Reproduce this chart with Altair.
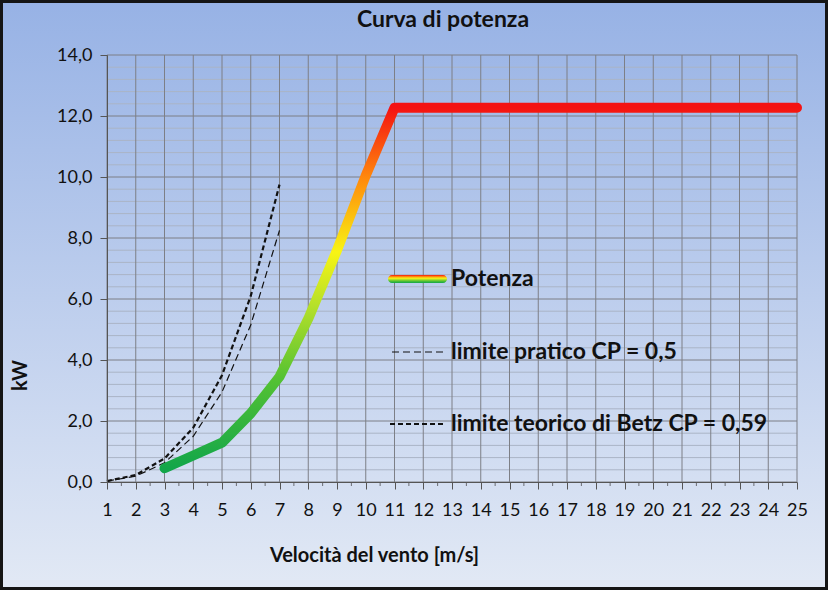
import altair as alt
import pandas as pd

# ---------------- data ----------------
speed_power = [3, 4, 5, 6, 7, 8, 9, 10, 11, 12, 13, 14, 15, 16, 17, 18, 19, 20, 21, 22, 23, 24, 25]
power_kw = [0.45, 0.87, 1.29, 2.25, 3.45, 5.35, 7.6, 10.05, 12.27, 12.27, 12.27, 12.27, 12.27,
            12.27, 12.27, 12.27, 12.27, 12.27, 12.27, 12.27, 12.27, 12.27, 12.27]

speed_limits = [1, 2, 3, 4, 5, 6, 7]
betz_kw = [0.03, 0.23, 0.77, 1.78, 3.5, 6.1, 9.75]
pratico_kw = [0.03, 0.19, 0.63, 1.5, 2.95, 5.15, 8.25]

x_ticks = list(range(1, 26))
x_minor = [v + 0.5 for v in range(1, 25)]
y_major = [0, 2, 4, 6, 8, 10, 12, 14]
y_minor = [round(i * 0.4, 1) for i in range(1, 35) if i % 5 != 0]

chart_title = "Curva di potenza"
legend_labels = ["Potenza", "limite pratico CP = 0,5", "limite teorico di Betz CP = 0,59"]

# ---------------- layout ----------------
W, H = 690, 427
PAD = {"left": 107, "top": 55, "right": 31, "bottom": 108}
FONT = "Lato"

xs = alt.Scale(domain=[1, 25], nice=False, zero=False)
ys = alt.Scale(domain=[0, 14], nice=False, zero=False)

x_axis = alt.Axis(
    values=x_ticks, title="Velocità del vento  [m/s]", grid=False, domain=True,
    domainColor="#555555", tickColor="#555555", tickSize=7, labelPadding=12,
    labelFontSize=18, labelFont=FONT, labelColor="#111111", labelFlush=False,
    labelOverlap=False, titleFont=FONT, titleFontSize=20, titleFontWeight="bold",
    titleColor="#111111", titleX=267, titleY=73, titleBaseline="middle", zindex=1)
y_axis = alt.Axis(
    values=y_major, title="kW", grid=False, domain=True, domainColor="#555555",
    tickColor="#555555", tickSize=7, labelPadding=8,
    labelExpr="replace(format(datum.value, '.1f'), '.', ',')",
    labelFontSize=18, labelFont=FONT, labelColor="#111111", labelFlush=False,
    titleFont=FONT, titleFontSize=20, titleFontWeight="bold", titleColor="#111111",
    titleX=-87, titleY=320, titleAngle=-90, titleBaseline="middle", zindex=1)

bg_grad = alt.LinearGradient(
    gradient="linear", x1=0, y1=0, x2=0, y2=1,
    stops=[alt.GradientStop(offset=0, color="#97b2e5"),
           alt.GradientStop(offset=1, color="#e2e9f5")])

power_grad = alt.LinearGradient(
    gradient="linear", x1=0, y1=1, x2=0, y2=0,
    stops=[alt.GradientStop(offset=0.0, color="#12a64a"),
           alt.GradientStop(offset=0.25, color="#55c232"),
           alt.GradientStop(offset=0.45, color="#b5e02a"),
           alt.GradientStop(offset=0.6, color="#f8f414"),
           alt.GradientStop(offset=0.8, color="#ff8c0c"),
           alt.GradientStop(offset=1.0, color="#f41212")])

one = pd.DataFrame({"a": [0]})

bg = alt.Chart(one).mark_rect(fill=bg_grad, stroke="#151515", strokeWidth=3, clip=False).encode(
    x=alt.value(-PAD["left"] + 1.5), x2=alt.value(W + PAD["right"] - 1.5),
    y=alt.value(-PAD["top"] + 1.5), y2=alt.value(H + PAD["bottom"] - 1.5))

title_mark = alt.Chart(one).mark_text(align="center", baseline="middle", font=FONT, fontSize=23,
                                      fontWeight="bold", color="#111111").encode(
    x=alt.value(336), y=alt.value(-35), text=alt.value(chart_title))

minor_grid = alt.Chart(pd.DataFrame({"v": y_minor})).mark_rule(color="#aab4c6", strokeWidth=1).encode(
    y=alt.Y("v:Q", scale=ys, axis=y_axis), x=alt.value(0), x2=alt.value(W))

major_grid_y = alt.Chart(pd.DataFrame({"v": y_major})).mark_rule(color="#7d7f86", strokeWidth=1).encode(
    y=alt.Y("v:Q", scale=ys, axis=y_axis), x=alt.value(0), x2=alt.value(W))

grid_x = alt.Chart(pd.DataFrame({"v": x_ticks})).mark_rule(color="#7d7f86", strokeWidth=1).encode(
    x=alt.X("v:Q", scale=xs, axis=x_axis), y=alt.value(0), y2=alt.value(H))

minor_ticks = alt.Chart(pd.DataFrame({"v": x_minor})).mark_rule(color="#6a6c72", strokeWidth=1).encode(
    x=alt.X("v:Q", scale=xs, axis=x_axis), y=alt.value(H), y2=alt.value(H + 4))

pratico = alt.Chart(pd.DataFrame({"v": speed_limits, "p": pratico_kw})).mark_line(
    color="#111111", strokeWidth=1.2, strokeDash=[7, 4]).encode(
    x=alt.X("v:Q", scale=xs, axis=x_axis), y=alt.Y("p:Q", scale=ys, axis=y_axis))

betz = alt.Chart(pd.DataFrame({"v": speed_limits, "p": betz_kw})).mark_line(
    color="#111111", strokeWidth=2.2, strokeDash=[5, 3]).encode(
    x=alt.X("v:Q", scale=xs, axis=x_axis), y=alt.Y("p:Q", scale=ys, axis=y_axis))

power = alt.Chart(pd.DataFrame({"v": speed_power, "p": power_kw})).mark_line(
    color=power_grad, strokeWidth=10, strokeCap="round", strokeJoin="round").encode(
    x=alt.X("v:Q", scale=xs, axis=x_axis), y=alt.Y("p:Q", scale=ys, axis=y_axis))

# legend (drawn inside the plot area)
leg_y = [224, 297, 369]
leg_sample = alt.Chart(one).mark_rect(fill=power_grad, cornerRadius=4, clip=False).encode(
    x=alt.value(281), x2=alt.value(340), y=alt.value(leg_y[0] - 4), y2=alt.value(leg_y[0] + 4))
leg_prat = alt.Chart(one).mark_rule(color="#111111", strokeWidth=1.2, strokeDash=[7, 4]).encode(
    x=alt.value(285), x2=alt.value(337), y=alt.value(leg_y[1]))
leg_betz = alt.Chart(one).mark_rule(color="#111111", strokeWidth=2.2, strokeDash=[5, 3]).encode(
    x=alt.value(283), x2=alt.value(337), y=alt.value(leg_y[2]))
leg_texts = [
    alt.Chart(one).mark_text(align="left", baseline="middle", font=FONT, fontSize=23,
                             fontWeight="bold", color="#111111").encode(
        x=alt.value(344), y=alt.value(yv), text=alt.value(lbl))
    for lbl, yv in zip(legend_labels, leg_y)
]

chart = alt.layer(
    bg, title_mark, minor_grid, major_grid_y, grid_x, minor_ticks, pratico, betz, power,
    leg_sample, leg_prat, leg_betz, *leg_texts
).properties(
    width=W, height=H, padding=PAD, autosize=alt.AutoSizeParams(type="none")
).configure(background="#dfe6f3").configure_view(stroke=None)

chart.save("out.html", embed_options={"renderer": "svg", "actions": False})
